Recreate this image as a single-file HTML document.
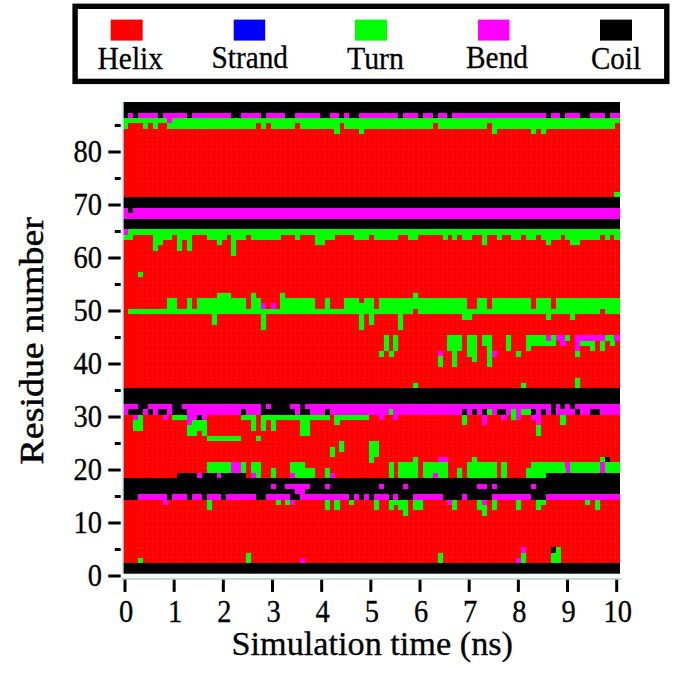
<!DOCTYPE html>
<html><head><meta charset="utf-8"><title>DSSP</title>
<style>
html,body{margin:0;padding:0;background:#fff;}
body{width:685px;height:677px;overflow:hidden;position:relative;font-family:"Liberation Serif",serif;}
svg{position:absolute;left:0;top:0;}
text{font-family:"Liberation Serif",serif;fill:#000;stroke:#000;stroke-width:0.3px;}
.tk{font-size:28.5px;}
.lg{font-size:31px;}
.ax{font-size:34.7px;}
</style></head><body>
<svg width="685" height="677" viewBox="0 0 685 677">
<rect x="0" y="0" width="685" height="677" fill="#fff"/>
<!-- legend -->
<rect x="75.1" y="6.3" width="591.7" height="75.1" fill="#fff" stroke="#000" stroke-width="5.4"/>
<rect x="110.7" y="19.6" width="32" height="21" fill="#ff0000"/>
<rect x="233.7" y="19.6" width="31.5" height="21" fill="#0000ff"/>
<rect x="355" y="19.6" width="32" height="21" fill="#00ff00"/>
<rect x="478" y="19.6" width="31.5" height="21" fill="#ff00ff"/>
<rect x="600" y="19.6" width="32" height="21" fill="#000"/>
<text x="97.5" y="69.4" class="lg" textLength="65.5" lengthAdjust="spacingAndGlyphs">Helix</text>
<text x="211.5" y="68" class="lg" textLength="76.5" lengthAdjust="spacingAndGlyphs">Strand</text>
<text x="347" y="69.4" class="lg" textLength="57" lengthAdjust="spacingAndGlyphs">Turn</text>
<text x="466" y="68" class="lg" textLength="62" lengthAdjust="spacingAndGlyphs">Bend</text>
<text x="591" y="69.4" class="lg" textLength="50" lengthAdjust="spacingAndGlyphs">Coil</text>
<!-- plot -->
<g shape-rendering="crispEdges">
<rect x="123.2" y="102.1" width="496.7" height="471.6" fill="#ff0000"/>
<path d="M138.0 102.1V573.7M142.9 102.1V573.7M147.8 102.1V573.7M152.7 102.1V573.7M157.6 102.1V573.7M162.5 102.1V573.7M167.5 102.1V573.7M172.4 102.1V573.7M177.3 102.1V573.7M182.2 102.1V573.7M187.1 102.1V573.7M192.0 102.1V573.7M197.0 102.1V573.7M201.9 102.1V573.7M206.8 102.1V573.7M211.7 102.1V573.7M216.6 102.1V573.7M221.6 102.1V573.7M226.5 102.1V573.7M231.4 102.1V573.7M236.3 102.1V573.7M241.2 102.1V573.7M246.1 102.1V573.7M251.1 102.1V573.7M256.0 102.1V573.7M260.9 102.1V573.7M265.8 102.1V573.7M270.7 102.1V573.7M275.7 102.1V573.7M280.6 102.1V573.7M285.5 102.1V573.7M290.4 102.1V573.7M295.3 102.1V573.7M300.2 102.1V573.7M305.2 102.1V573.7M310.1 102.1V573.7M315.0 102.1V573.7M319.9 102.1V573.7M324.8 102.1V573.7M329.7 102.1V573.7M334.7 102.1V573.7M339.6 102.1V573.7M344.5 102.1V573.7M349.4 102.1V573.7M354.3 102.1V573.7M359.3 102.1V573.7M364.2 102.1V573.7M369.1 102.1V573.7M374.0 102.1V573.7M378.9 102.1V573.7M383.8 102.1V573.7M388.8 102.1V573.7M393.7 102.1V573.7M398.6 102.1V573.7M403.5 102.1V573.7M408.4 102.1V573.7M413.4 102.1V573.7M418.3 102.1V573.7M423.2 102.1V573.7M428.1 102.1V573.7M433.0 102.1V573.7M437.9 102.1V573.7M442.9 102.1V573.7M447.8 102.1V573.7M452.7 102.1V573.7M457.6 102.1V573.7M462.5 102.1V573.7M467.4 102.1V573.7M472.4 102.1V573.7M477.3 102.1V573.7M482.2 102.1V573.7M487.1 102.1V573.7M492.0 102.1V573.7M497.0 102.1V573.7M501.9 102.1V573.7M506.8 102.1V573.7M511.7 102.1V573.7M516.6 102.1V573.7M521.5 102.1V573.7M526.5 102.1V573.7M531.4 102.1V573.7M536.3 102.1V573.7M541.2 102.1V573.7M546.1 102.1V573.7M551.1 102.1V573.7M556.0 102.1V573.7M560.9 102.1V573.7M565.8 102.1V573.7M570.7 102.1V573.7M575.6 102.1V573.7M580.6 102.1V573.7M585.5 102.1V573.7M590.4 102.1V573.7M595.3 102.1V573.7M600.2 102.1V573.7M605.1 102.1V573.7M610.1 102.1V573.7M615.0 102.1V573.7M137.2 568.4H619.9M137.2 563.1H619.9M137.2 557.8H619.9M137.2 552.5H619.9M137.2 547.2H619.9M137.2 541.9H619.9M137.2 536.6H619.9M137.2 531.3H619.9M137.2 526.0H619.9M137.2 520.7H619.9M137.2 515.4H619.9M137.2 510.1H619.9M137.2 504.8H619.9M137.2 499.5H619.9M137.2 494.2H619.9M137.2 488.9H619.9M137.2 483.6H619.9M137.2 478.3H619.9M137.2 473.0H619.9M137.2 467.7H619.9M137.2 462.4H619.9M137.2 457.1H619.9M137.2 451.8H619.9M137.2 446.5H619.9M137.2 441.2H619.9M137.2 435.9H619.9M137.2 430.6H619.9M137.2 425.3H619.9M137.2 420.0H619.9M137.2 414.7H619.9M137.2 409.4H619.9M137.2 404.1H619.9M137.2 398.8H619.9M137.2 393.5H619.9M137.2 388.2H619.9M137.2 382.9H619.9M137.2 377.6H619.9M137.2 372.3H619.9M137.2 367.0H619.9M137.2 361.7H619.9M137.2 356.4H619.9M137.2 351.1H619.9M137.2 345.8H619.9M137.2 340.5H619.9M137.2 335.3H619.9M137.2 330.0H619.9M137.2 324.7H619.9M137.2 319.4H619.9M137.2 314.1H619.9M137.2 308.8H619.9M137.2 303.5H619.9M137.2 298.2H619.9M137.2 292.9H619.9M137.2 287.6H619.9M137.2 282.3H619.9M137.2 277.0H619.9M137.2 271.7H619.9M137.2 266.4H619.9M137.2 261.1H619.9M137.2 255.8H619.9M137.2 250.5H619.9M137.2 245.2H619.9M137.2 239.9H619.9M137.2 234.6H619.9M137.2 229.3H619.9M137.2 224.0H619.9M137.2 218.7H619.9M137.2 213.4H619.9M137.2 208.1H619.9M137.2 202.8H619.9M137.2 197.5H619.9M137.2 192.2H619.9M137.2 186.9H619.9M137.2 181.6H619.9M137.2 176.3H619.9M137.2 171.0H619.9M137.2 165.7H619.9M137.2 160.4H619.9M137.2 155.1H619.9M137.2 149.8H619.9M137.2 144.5H619.9M137.2 139.2H619.9M137.2 133.9H619.9M137.2 128.6H619.9M137.2 123.3H619.9M137.2 118.0H619.9M137.2 112.7H619.9M137.2 107.4H619.9" fill="none" stroke="#fff" stroke-opacity="0.04" stroke-width="1"/>
<rect x="123.2" y="102.1" width="496.7" height="10.75" fill="#000000"/>
<rect x="123.2" y="112.7" width="5.06" height="5.45" fill="#000000"/>
<rect x="128.11" y="112.7" width="5.06" height="5.45" fill="#ff00ff"/>
<rect x="133.03" y="112.7" width="5.06" height="5.45" fill="#000000"/>
<rect x="137.94" y="112.7" width="19.8" height="5.45" fill="#ff00ff"/>
<rect x="157.59" y="112.7" width="5.06" height="5.45" fill="#000000"/>
<rect x="162.5" y="112.7" width="24.71" height="5.45" fill="#ff00ff"/>
<rect x="187.07" y="112.7" width="5.06" height="5.45" fill="#000000"/>
<rect x="191.98" y="112.7" width="39.45" height="5.45" fill="#ff00ff"/>
<rect x="231.28" y="112.7" width="9.98" height="5.45" fill="#000000"/>
<rect x="241.11" y="112.7" width="19.8" height="5.45" fill="#ff00ff"/>
<rect x="260.76" y="112.7" width="5.06" height="5.45" fill="#000000"/>
<rect x="265.67" y="112.7" width="19.8" height="5.45" fill="#ff00ff"/>
<rect x="285.32" y="112.7" width="9.98" height="5.45" fill="#000000"/>
<rect x="295.15" y="112.7" width="24.71" height="5.45" fill="#ff00ff"/>
<rect x="319.71" y="112.7" width="9.98" height="5.45" fill="#000000"/>
<rect x="329.54" y="112.7" width="9.98" height="5.45" fill="#ff00ff"/>
<rect x="339.37" y="112.7" width="5.06" height="5.45" fill="#000000"/>
<rect x="344.28" y="112.7" width="5.06" height="5.45" fill="#ff00ff"/>
<rect x="349.19" y="112.7" width="9.98" height="5.45" fill="#000000"/>
<rect x="359.02" y="112.7" width="39.45" height="5.45" fill="#ff00ff"/>
<rect x="398.32" y="112.7" width="5.06" height="5.45" fill="#000000"/>
<rect x="403.23" y="112.7" width="14.89" height="5.45" fill="#ff00ff"/>
<rect x="417.97" y="112.7" width="5.06" height="5.45" fill="#000000"/>
<rect x="422.89" y="112.7" width="9.98" height="5.45" fill="#ff00ff"/>
<rect x="432.71" y="112.7" width="5.06" height="5.45" fill="#000000"/>
<rect x="437.62" y="112.7" width="9.98" height="5.45" fill="#ff00ff"/>
<rect x="447.45" y="112.7" width="5.06" height="5.45" fill="#000000"/>
<rect x="452.36" y="112.7" width="93.49" height="5.45" fill="#ff00ff"/>
<rect x="545.71" y="112.7" width="5.06" height="5.45" fill="#000000"/>
<rect x="550.62" y="112.7" width="9.98" height="5.45" fill="#ff00ff"/>
<rect x="560.45" y="112.7" width="5.06" height="5.45" fill="#000000"/>
<rect x="565.36" y="112.7" width="14.89" height="5.45" fill="#ff00ff"/>
<rect x="580.1" y="112.7" width="9.98" height="5.45" fill="#000000"/>
<rect x="589.92" y="112.7" width="14.89" height="5.45" fill="#ff00ff"/>
<rect x="604.66" y="112.7" width="5.06" height="5.45" fill="#000000"/>
<rect x="609.57" y="112.7" width="10.33" height="5.45" fill="#ff00ff"/>
<rect x="123.2" y="118" width="44.37" height="5.45" fill="#00ff00"/>
<rect x="167.42" y="118" width="5.06" height="5.45" fill="#ff00ff"/>
<rect x="172.33" y="118" width="447.57" height="5.45" fill="#00ff00"/>
<rect x="123.2" y="123.3" width="5.06" height="5.45" fill="#00ff00"/>
<rect x="142.85" y="123.3" width="5.06" height="5.45" fill="#00ff00"/>
<rect x="152.68" y="123.3" width="5.06" height="5.45" fill="#00ff00"/>
<rect x="167.42" y="123.3" width="88.58" height="5.45" fill="#00ff00"/>
<rect x="260.76" y="123.3" width="5.06" height="5.45" fill="#00ff00"/>
<rect x="270.59" y="123.3" width="24.71" height="5.45" fill="#00ff00"/>
<rect x="300.06" y="123.3" width="39.45" height="5.45" fill="#00ff00"/>
<rect x="344.28" y="123.3" width="88.58" height="5.45" fill="#00ff00"/>
<rect x="437.62" y="123.3" width="49.28" height="5.45" fill="#00ff00"/>
<rect x="491.67" y="123.3" width="122.97" height="5.45" fill="#00ff00"/>
<rect x="334.45" y="128.59" width="5.06" height="5.45" fill="#00ff00"/>
<rect x="359.02" y="128.59" width="5.06" height="5.45" fill="#00ff00"/>
<rect x="491.67" y="128.59" width="5.06" height="5.45" fill="#00ff00"/>
<rect x="530.97" y="128.59" width="5.06" height="5.45" fill="#00ff00"/>
<rect x="540.79" y="128.59" width="5.06" height="5.45" fill="#00ff00"/>
<rect x="614.49" y="192.18" width="5.41" height="5.45" fill="#00ff00"/>
<rect x="123.2" y="197.48" width="496.7" height="10.75" fill="#000000"/>
<rect x="123.2" y="208.08" width="5.06" height="5.45" fill="#ff00ff"/>
<rect x="128.11" y="208.08" width="5.06" height="5.45" fill="#000000"/>
<rect x="133.03" y="208.08" width="486.87" height="5.45" fill="#ff00ff"/>
<rect x="123.2" y="213.38" width="496.7" height="5.45" fill="#ff00ff"/>
<rect x="123.2" y="218.68" width="496.7" height="10.75" fill="#000000"/>
<rect x="123.2" y="229.27" width="5.06" height="5.45" fill="#ff00ff"/>
<rect x="128.11" y="229.27" width="491.79" height="5.45" fill="#00ff00"/>
<rect x="123.2" y="234.57" width="9.98" height="5.45" fill="#00ff00"/>
<rect x="152.68" y="234.57" width="19.8" height="5.45" fill="#00ff00"/>
<rect x="177.24" y="234.57" width="14.89" height="5.45" fill="#00ff00"/>
<rect x="206.72" y="234.57" width="19.8" height="5.45" fill="#00ff00"/>
<rect x="231.28" y="234.57" width="14.89" height="5.45" fill="#00ff00"/>
<rect x="250.93" y="234.57" width="29.63" height="5.45" fill="#00ff00"/>
<rect x="295.15" y="234.57" width="5.06" height="5.45" fill="#00ff00"/>
<rect x="314.8" y="234.57" width="19.8" height="5.45" fill="#00ff00"/>
<rect x="354.1" y="234.57" width="14.89" height="5.45" fill="#00ff00"/>
<rect x="373.76" y="234.57" width="24.71" height="5.45" fill="#00ff00"/>
<rect x="408.15" y="234.57" width="9.98" height="5.45" fill="#00ff00"/>
<rect x="442.54" y="234.57" width="5.06" height="5.45" fill="#00ff00"/>
<rect x="452.36" y="234.57" width="5.06" height="5.45" fill="#00ff00"/>
<rect x="462.19" y="234.57" width="9.98" height="5.45" fill="#00ff00"/>
<rect x="481.84" y="234.57" width="5.06" height="10.75" fill="#00ff00"/>
<rect x="496.58" y="234.57" width="5.06" height="5.45" fill="#00ff00"/>
<rect x="511.32" y="234.57" width="9.98" height="5.45" fill="#00ff00"/>
<rect x="526.06" y="234.57" width="9.98" height="5.45" fill="#00ff00"/>
<rect x="540.79" y="234.57" width="19.8" height="5.45" fill="#00ff00"/>
<rect x="565.36" y="234.57" width="34.54" height="5.45" fill="#00ff00"/>
<rect x="604.66" y="234.57" width="5.06" height="5.45" fill="#00ff00"/>
<rect x="614.49" y="234.57" width="5.41" height="5.45" fill="#00ff00"/>
<rect x="152.68" y="239.87" width="9.98" height="5.45" fill="#00ff00"/>
<rect x="177.24" y="239.87" width="5.06" height="10.75" fill="#00ff00"/>
<rect x="187.07" y="239.87" width="5.06" height="10.75" fill="#00ff00"/>
<rect x="216.54" y="239.87" width="5.06" height="5.45" fill="#00ff00"/>
<rect x="231.28" y="239.87" width="5.06" height="16.05" fill="#00ff00"/>
<rect x="314.8" y="239.87" width="9.98" height="5.45" fill="#00ff00"/>
<rect x="545.71" y="239.87" width="5.06" height="5.45" fill="#00ff00"/>
<rect x="570.27" y="239.87" width="9.98" height="5.45" fill="#00ff00"/>
<rect x="152.68" y="245.17" width="5.06" height="5.45" fill="#00ff00"/>
<rect x="137.94" y="271.66" width="5.06" height="5.45" fill="#00ff00"/>
<rect x="216.54" y="292.86" width="14.89" height="5.45" fill="#00ff00"/>
<rect x="250.93" y="292.86" width="5.06" height="5.45" fill="#00ff00"/>
<rect x="280.41" y="292.86" width="5.06" height="5.45" fill="#00ff00"/>
<rect x="413.06" y="292.86" width="5.06" height="5.45" fill="#00ff00"/>
<rect x="167.42" y="298.16" width="9.98" height="10.75" fill="#00ff00"/>
<rect x="187.07" y="298.16" width="5.06" height="10.75" fill="#00ff00"/>
<rect x="196.89" y="298.16" width="49.28" height="10.75" fill="#00ff00"/>
<rect x="250.93" y="298.16" width="9.98" height="10.75" fill="#00ff00"/>
<rect x="280.41" y="298.16" width="34.54" height="10.75" fill="#00ff00"/>
<rect x="324.63" y="298.16" width="5.06" height="10.75" fill="#00ff00"/>
<rect x="344.28" y="298.16" width="14.89" height="5.45" fill="#00ff00"/>
<rect x="363.93" y="298.16" width="9.98" height="5.45" fill="#00ff00"/>
<rect x="378.67" y="298.16" width="88.58" height="10.75" fill="#00ff00"/>
<rect x="476.93" y="298.16" width="9.98" height="10.75" fill="#00ff00"/>
<rect x="491.67" y="298.16" width="39.45" height="10.75" fill="#00ff00"/>
<rect x="535.88" y="298.16" width="14.89" height="10.75" fill="#00ff00"/>
<rect x="555.53" y="298.16" width="64.37" height="10.75" fill="#00ff00"/>
<rect x="260.76" y="303.46" width="5.06" height="5.45" fill="#ff00ff"/>
<rect x="270.59" y="303.46" width="5.06" height="5.45" fill="#ff00ff"/>
<rect x="344.28" y="303.46" width="29.63" height="5.45" fill="#00ff00"/>
<rect x="128.11" y="308.76" width="285.1" height="5.45" fill="#00ff00"/>
<rect x="417.97" y="308.76" width="181.93" height="5.45" fill="#00ff00"/>
<rect x="604.66" y="308.76" width="15.24" height="5.45" fill="#00ff00"/>
<rect x="211.63" y="314.06" width="5.06" height="10.75" fill="#00ff00"/>
<rect x="260.76" y="314.06" width="5.06" height="16.05" fill="#00ff00"/>
<rect x="359.02" y="314.06" width="5.06" height="16.05" fill="#00ff00"/>
<rect x="368.84" y="314.06" width="5.06" height="10.75" fill="#00ff00"/>
<rect x="398.32" y="314.06" width="5.06" height="16.05" fill="#00ff00"/>
<rect x="462.19" y="314.06" width="9.98" height="5.45" fill="#00ff00"/>
<rect x="545.71" y="314.06" width="5.06" height="5.45" fill="#00ff00"/>
<rect x="570.27" y="314.06" width="5.06" height="5.45" fill="#00ff00"/>
<rect x="383.58" y="335.25" width="5.06" height="16.05" fill="#00ff00"/>
<rect x="393.41" y="335.25" width="5.06" height="16.05" fill="#00ff00"/>
<rect x="447.45" y="335.25" width="14.89" height="16.05" fill="#00ff00"/>
<rect x="467.1" y="335.25" width="9.98" height="21.35" fill="#00ff00"/>
<rect x="481.84" y="335.25" width="9.98" height="10.75" fill="#00ff00"/>
<rect x="506.4" y="335.25" width="5.06" height="16.05" fill="#00ff00"/>
<rect x="526.06" y="335.25" width="19.8" height="5.45" fill="#00ff00"/>
<rect x="545.71" y="335.25" width="5.06" height="5.45" fill="#ff00ff"/>
<rect x="550.62" y="335.25" width="5.06" height="5.45" fill="#00ff00"/>
<rect x="555.53" y="335.25" width="9.98" height="5.45" fill="#ff00ff"/>
<rect x="565.36" y="335.25" width="5.06" height="5.45" fill="#00ff00"/>
<rect x="575.18" y="335.25" width="29.63" height="5.45" fill="#ff00ff"/>
<rect x="604.66" y="335.25" width="9.98" height="5.45" fill="#00ff00"/>
<rect x="614.49" y="335.25" width="5.41" height="5.45" fill="#ff00ff"/>
<rect x="526.06" y="340.55" width="29.63" height="5.45" fill="#00ff00"/>
<rect x="560.45" y="340.55" width="5.06" height="5.45" fill="#ff00ff"/>
<rect x="575.18" y="340.55" width="5.06" height="10.75" fill="#ff00ff"/>
<rect x="580.1" y="340.55" width="14.89" height="5.45" fill="#00ff00"/>
<rect x="599.75" y="340.55" width="5.06" height="10.75" fill="#00ff00"/>
<rect x="609.57" y="340.55" width="5.06" height="5.45" fill="#00ff00"/>
<rect x="486.75" y="345.85" width="5.06" height="21.35" fill="#00ff00"/>
<rect x="526.06" y="345.85" width="5.06" height="5.45" fill="#00ff00"/>
<rect x="589.92" y="345.85" width="5.06" height="5.45" fill="#00ff00"/>
<rect x="378.67" y="351.15" width="5.06" height="5.45" fill="#00ff00"/>
<rect x="388.5" y="351.15" width="5.06" height="5.45" fill="#00ff00"/>
<rect x="437.62" y="351.15" width="5.06" height="5.45" fill="#ff00ff"/>
<rect x="452.36" y="351.15" width="5.06" height="16.05" fill="#00ff00"/>
<rect x="491.67" y="351.15" width="5.06" height="5.45" fill="#ff00ff"/>
<rect x="516.23" y="351.15" width="5.06" height="5.45" fill="#00ff00"/>
<rect x="575.18" y="351.15" width="5.06" height="5.45" fill="#00ff00"/>
<rect x="437.62" y="356.45" width="5.06" height="10.75" fill="#00ff00"/>
<rect x="472.01" y="356.45" width="5.06" height="5.45" fill="#00ff00"/>
<rect x="575.18" y="377.64" width="5.06" height="10.75" fill="#00ff00"/>
<rect x="413.06" y="382.94" width="5.06" height="5.45" fill="#00ff00"/>
<rect x="521.14" y="382.94" width="5.06" height="5.45" fill="#00ff00"/>
<rect x="123.2" y="388.24" width="496.7" height="16.05" fill="#000000"/>
<rect x="123.2" y="404.14" width="14.89" height="5.45" fill="#ff00ff"/>
<rect x="137.94" y="404.14" width="9.98" height="5.45" fill="#000000"/>
<rect x="147.76" y="404.14" width="24.71" height="5.45" fill="#ff00ff"/>
<rect x="172.33" y="404.14" width="9.98" height="5.45" fill="#000000"/>
<rect x="182.15" y="404.14" width="78.76" height="5.45" fill="#ff00ff"/>
<rect x="260.76" y="404.14" width="5.06" height="5.45" fill="#000000"/>
<rect x="265.67" y="404.14" width="5.06" height="5.45" fill="#ff00ff"/>
<rect x="270.59" y="404.14" width="19.8" height="5.45" fill="#000000"/>
<rect x="290.24" y="404.14" width="9.98" height="5.45" fill="#ff00ff"/>
<rect x="300.06" y="404.14" width="5.06" height="5.45" fill="#000000"/>
<rect x="304.98" y="404.14" width="245.79" height="5.45" fill="#ff00ff"/>
<rect x="550.62" y="404.14" width="5.06" height="10.75" fill="#000000"/>
<rect x="555.53" y="404.14" width="5.06" height="5.45" fill="#ff00ff"/>
<rect x="560.45" y="404.14" width="5.06" height="5.45" fill="#000000"/>
<rect x="565.36" y="404.14" width="5.06" height="5.45" fill="#ff00ff"/>
<rect x="570.27" y="404.14" width="5.06" height="5.45" fill="#000000"/>
<rect x="575.18" y="404.14" width="44.72" height="5.45" fill="#ff00ff"/>
<rect x="123.2" y="409.43" width="5.06" height="5.45" fill="#ff00ff"/>
<rect x="128.11" y="409.43" width="14.89" height="5.45" fill="#000000"/>
<rect x="142.85" y="409.43" width="5.06" height="5.45" fill="#ff00ff"/>
<rect x="147.76" y="409.43" width="5.06" height="5.45" fill="#000000"/>
<rect x="152.68" y="409.43" width="5.06" height="5.45" fill="#ff00ff"/>
<rect x="157.59" y="409.43" width="9.98" height="5.45" fill="#000000"/>
<rect x="167.42" y="409.43" width="5.06" height="5.45" fill="#ff00ff"/>
<rect x="172.33" y="409.43" width="14.89" height="5.45" fill="#000000"/>
<rect x="187.07" y="409.43" width="54.19" height="5.45" fill="#ff00ff"/>
<rect x="241.11" y="409.43" width="5.06" height="5.45" fill="#000000"/>
<rect x="246.02" y="409.43" width="14.89" height="5.45" fill="#ff00ff"/>
<rect x="260.76" y="409.43" width="34.54" height="5.45" fill="#000000"/>
<rect x="295.15" y="409.43" width="5.06" height="5.45" fill="#ff00ff"/>
<rect x="300.06" y="409.43" width="9.98" height="5.45" fill="#000000"/>
<rect x="309.89" y="409.43" width="14.89" height="5.45" fill="#ff00ff"/>
<rect x="324.63" y="409.43" width="5.06" height="5.45" fill="#000000"/>
<rect x="329.54" y="409.43" width="59.1" height="5.45" fill="#ff00ff"/>
<rect x="388.5" y="409.43" width="5.06" height="5.45" fill="#00ff00"/>
<rect x="393.41" y="409.43" width="68.93" height="5.45" fill="#ff00ff"/>
<rect x="462.19" y="409.43" width="5.06" height="5.45" fill="#000000"/>
<rect x="467.1" y="409.43" width="5.06" height="5.45" fill="#ff00ff"/>
<rect x="472.01" y="409.43" width="5.06" height="5.45" fill="#000000"/>
<rect x="476.93" y="409.43" width="5.06" height="5.45" fill="#ff00ff"/>
<rect x="481.84" y="409.43" width="5.06" height="5.45" fill="#000000"/>
<rect x="486.75" y="409.43" width="5.06" height="5.45" fill="#00ff00"/>
<rect x="491.67" y="409.43" width="5.06" height="5.45" fill="#ff00ff"/>
<rect x="496.58" y="409.43" width="9.98" height="5.45" fill="#000000"/>
<rect x="506.4" y="409.43" width="5.06" height="5.45" fill="#ff00ff"/>
<rect x="511.32" y="409.43" width="5.06" height="10.75" fill="#00ff00"/>
<rect x="516.23" y="409.43" width="5.06" height="10.75" fill="#ff00ff"/>
<rect x="521.14" y="409.43" width="9.98" height="5.45" fill="#00ff00"/>
<rect x="530.97" y="409.43" width="5.06" height="5.45" fill="#000000"/>
<rect x="535.88" y="409.43" width="5.06" height="5.45" fill="#ff00ff"/>
<rect x="540.79" y="409.43" width="5.06" height="5.45" fill="#000000"/>
<rect x="545.71" y="409.43" width="5.06" height="5.45" fill="#ff00ff"/>
<rect x="555.53" y="409.43" width="19.8" height="5.45" fill="#ff00ff"/>
<rect x="575.18" y="409.43" width="5.06" height="5.45" fill="#000000"/>
<rect x="580.1" y="409.43" width="9.98" height="5.45" fill="#ff00ff"/>
<rect x="589.92" y="409.43" width="9.98" height="5.45" fill="#000000"/>
<rect x="599.75" y="409.43" width="20.15" height="5.45" fill="#ff00ff"/>
<rect x="133.03" y="414.73" width="5.06" height="5.45" fill="#ff00ff"/>
<rect x="137.94" y="414.73" width="5.06" height="5.45" fill="#00ff00"/>
<rect x="162.5" y="414.73" width="5.06" height="5.45" fill="#ff00ff"/>
<rect x="172.33" y="414.73" width="14.89" height="5.45" fill="#00ff00"/>
<rect x="187.07" y="414.73" width="9.98" height="5.45" fill="#ff00ff"/>
<rect x="196.89" y="414.73" width="5.06" height="5.45" fill="#000000"/>
<rect x="201.81" y="414.73" width="5.06" height="5.45" fill="#ff00ff"/>
<rect x="241.11" y="414.73" width="14.89" height="5.45" fill="#00ff00"/>
<rect x="260.76" y="414.73" width="68.93" height="5.45" fill="#00ff00"/>
<rect x="334.45" y="414.73" width="34.54" height="5.45" fill="#00ff00"/>
<rect x="378.67" y="414.73" width="5.06" height="5.45" fill="#ff00ff"/>
<rect x="393.41" y="414.73" width="5.06" height="5.45" fill="#ff00ff"/>
<rect x="462.19" y="414.73" width="5.06" height="10.75" fill="#00ff00"/>
<rect x="481.84" y="414.73" width="5.06" height="10.75" fill="#ff00ff"/>
<rect x="501.49" y="414.73" width="5.06" height="5.45" fill="#ff00ff"/>
<rect x="530.97" y="414.73" width="9.98" height="5.45" fill="#ff00ff"/>
<rect x="560.45" y="414.73" width="5.06" height="10.75" fill="#00ff00"/>
<rect x="133.03" y="420.03" width="9.98" height="10.75" fill="#00ff00"/>
<rect x="187.07" y="420.03" width="5.06" height="5.45" fill="#ff00ff"/>
<rect x="191.98" y="420.03" width="14.89" height="5.45" fill="#00ff00"/>
<rect x="250.93" y="420.03" width="5.06" height="10.75" fill="#00ff00"/>
<rect x="260.76" y="420.03" width="5.06" height="10.75" fill="#00ff00"/>
<rect x="270.59" y="420.03" width="5.06" height="10.75" fill="#00ff00"/>
<rect x="300.06" y="420.03" width="9.98" height="16.05" fill="#00ff00"/>
<rect x="334.45" y="420.03" width="5.06" height="5.45" fill="#00ff00"/>
<rect x="535.88" y="420.03" width="5.06" height="5.45" fill="#ff00ff"/>
<rect x="187.07" y="425.33" width="19.8" height="5.45" fill="#00ff00"/>
<rect x="535.88" y="425.33" width="5.06" height="10.75" fill="#00ff00"/>
<rect x="187.07" y="430.63" width="9.98" height="5.45" fill="#00ff00"/>
<rect x="201.81" y="430.63" width="5.06" height="5.45" fill="#00ff00"/>
<rect x="206.72" y="435.93" width="34.54" height="5.45" fill="#00ff00"/>
<rect x="255.85" y="435.93" width="5.06" height="5.45" fill="#00ff00"/>
<rect x="339.37" y="441.23" width="5.06" height="10.75" fill="#00ff00"/>
<rect x="368.84" y="441.23" width="9.98" height="16.05" fill="#00ff00"/>
<rect x="329.54" y="446.53" width="5.06" height="10.75" fill="#00ff00"/>
<rect x="368.84" y="457.12" width="5.06" height="5.45" fill="#00ff00"/>
<rect x="413.06" y="457.12" width="5.06" height="5.45" fill="#00ff00"/>
<rect x="437.62" y="457.12" width="9.98" height="5.45" fill="#ff00ff"/>
<rect x="472.01" y="457.12" width="5.06" height="5.45" fill="#00ff00"/>
<rect x="599.75" y="457.12" width="5.06" height="5.45" fill="#00ff00"/>
<rect x="604.66" y="457.12" width="5.06" height="5.45" fill="#000000"/>
<rect x="206.72" y="462.42" width="24.71" height="10.75" fill="#00ff00"/>
<rect x="231.28" y="462.42" width="9.98" height="10.75" fill="#ff00ff"/>
<rect x="241.11" y="462.42" width="5.06" height="10.75" fill="#00ff00"/>
<rect x="250.93" y="462.42" width="9.98" height="10.75" fill="#00ff00"/>
<rect x="290.24" y="462.42" width="14.89" height="5.45" fill="#00ff00"/>
<rect x="388.5" y="462.42" width="5.06" height="16.05" fill="#00ff00"/>
<rect x="398.32" y="462.42" width="19.8" height="16.05" fill="#00ff00"/>
<rect x="422.89" y="462.42" width="24.71" height="10.75" fill="#00ff00"/>
<rect x="467.1" y="462.42" width="29.63" height="16.05" fill="#00ff00"/>
<rect x="501.49" y="462.42" width="5.06" height="16.05" fill="#00ff00"/>
<rect x="530.97" y="462.42" width="34.54" height="5.45" fill="#00ff00"/>
<rect x="565.36" y="462.42" width="5.06" height="10.75" fill="#ff00ff"/>
<rect x="570.27" y="462.42" width="29.63" height="10.75" fill="#00ff00"/>
<rect x="599.75" y="462.42" width="5.06" height="10.75" fill="#ff00ff"/>
<rect x="604.66" y="462.42" width="15.24" height="10.75" fill="#00ff00"/>
<rect x="270.59" y="467.72" width="5.06" height="10.75" fill="#00ff00"/>
<rect x="290.24" y="467.72" width="24.71" height="5.45" fill="#00ff00"/>
<rect x="324.63" y="467.72" width="5.06" height="10.75" fill="#00ff00"/>
<rect x="457.28" y="467.72" width="5.06" height="10.75" fill="#00ff00"/>
<rect x="526.06" y="467.72" width="39.45" height="5.45" fill="#00ff00"/>
<rect x="177.24" y="473.02" width="19.8" height="5.45" fill="#000000"/>
<rect x="196.89" y="473.02" width="5.06" height="5.45" fill="#ff00ff"/>
<rect x="201.81" y="473.02" width="14.89" height="5.45" fill="#000000"/>
<rect x="216.54" y="473.02" width="5.06" height="5.45" fill="#ff00ff"/>
<rect x="221.46" y="473.02" width="24.71" height="5.45" fill="#000000"/>
<rect x="250.93" y="473.02" width="5.06" height="5.45" fill="#ff00ff"/>
<rect x="255.85" y="473.02" width="5.06" height="5.45" fill="#00ff00"/>
<rect x="290.24" y="473.02" width="5.06" height="5.45" fill="#ff00ff"/>
<rect x="295.15" y="473.02" width="19.8" height="5.45" fill="#00ff00"/>
<rect x="329.54" y="473.02" width="5.06" height="5.45" fill="#ff00ff"/>
<rect x="422.89" y="473.02" width="9.98" height="5.45" fill="#00ff00"/>
<rect x="432.71" y="473.02" width="5.06" height="5.45" fill="#ff00ff"/>
<rect x="437.62" y="473.02" width="9.98" height="5.45" fill="#00ff00"/>
<rect x="526.06" y="473.02" width="19.8" height="5.45" fill="#00ff00"/>
<rect x="545.71" y="473.02" width="74.19" height="5.45" fill="#000000"/>
<rect x="123.2" y="478.32" width="496.7" height="5.45" fill="#000000"/>
<rect x="123.2" y="483.62" width="147.54" height="5.45" fill="#000000"/>
<rect x="270.59" y="483.62" width="5.06" height="5.45" fill="#ff00ff"/>
<rect x="275.5" y="483.62" width="9.98" height="5.45" fill="#000000"/>
<rect x="285.32" y="483.62" width="24.71" height="5.45" fill="#ff00ff"/>
<rect x="309.89" y="483.62" width="14.89" height="5.45" fill="#000000"/>
<rect x="324.63" y="483.62" width="5.06" height="5.45" fill="#ff00ff"/>
<rect x="329.54" y="483.62" width="49.28" height="5.45" fill="#000000"/>
<rect x="378.67" y="483.62" width="5.06" height="5.45" fill="#ff00ff"/>
<rect x="383.58" y="483.62" width="19.8" height="5.45" fill="#000000"/>
<rect x="403.23" y="483.62" width="5.06" height="5.45" fill="#ff00ff"/>
<rect x="408.15" y="483.62" width="68.93" height="5.45" fill="#000000"/>
<rect x="476.93" y="483.62" width="9.98" height="5.45" fill="#ff00ff"/>
<rect x="486.75" y="483.62" width="5.06" height="5.45" fill="#000000"/>
<rect x="491.67" y="483.62" width="5.06" height="5.45" fill="#ff00ff"/>
<rect x="496.58" y="483.62" width="34.54" height="5.45" fill="#000000"/>
<rect x="530.97" y="483.62" width="5.06" height="5.45" fill="#ff00ff"/>
<rect x="535.88" y="483.62" width="84.02" height="5.45" fill="#000000"/>
<rect x="123.2" y="488.92" width="172.1" height="5.45" fill="#000000"/>
<rect x="295.15" y="488.92" width="9.98" height="5.45" fill="#ff00ff"/>
<rect x="304.98" y="488.92" width="314.92" height="5.45" fill="#000000"/>
<rect x="123.2" y="494.22" width="14.89" height="5.45" fill="#000000"/>
<rect x="137.94" y="494.22" width="29.63" height="5.45" fill="#ff00ff"/>
<rect x="167.42" y="494.22" width="5.06" height="5.45" fill="#000000"/>
<rect x="172.33" y="494.22" width="14.89" height="5.45" fill="#ff00ff"/>
<rect x="187.07" y="494.22" width="5.06" height="5.45" fill="#000000"/>
<rect x="191.98" y="494.22" width="9.98" height="5.45" fill="#ff00ff"/>
<rect x="201.81" y="494.22" width="5.06" height="5.45" fill="#000000"/>
<rect x="206.72" y="494.22" width="14.89" height="5.45" fill="#ff00ff"/>
<rect x="221.46" y="494.22" width="5.06" height="5.45" fill="#000000"/>
<rect x="226.37" y="494.22" width="29.63" height="5.45" fill="#ff00ff"/>
<rect x="255.85" y="494.22" width="9.98" height="5.45" fill="#000000"/>
<rect x="265.67" y="494.22" width="24.71" height="5.45" fill="#ff00ff"/>
<rect x="290.24" y="494.22" width="9.98" height="5.45" fill="#000000"/>
<rect x="300.06" y="494.22" width="49.28" height="5.45" fill="#ff00ff"/>
<rect x="349.19" y="494.22" width="5.06" height="5.45" fill="#000000"/>
<rect x="354.1" y="494.22" width="5.06" height="5.45" fill="#ff00ff"/>
<rect x="359.02" y="494.22" width="5.06" height="5.45" fill="#000000"/>
<rect x="363.93" y="494.22" width="5.06" height="5.45" fill="#ff00ff"/>
<rect x="368.84" y="494.22" width="5.06" height="5.45" fill="#000000"/>
<rect x="373.76" y="494.22" width="14.89" height="5.45" fill="#ff00ff"/>
<rect x="388.5" y="494.22" width="5.06" height="5.45" fill="#000000"/>
<rect x="393.41" y="494.22" width="5.06" height="5.45" fill="#ff00ff"/>
<rect x="398.32" y="494.22" width="14.89" height="5.45" fill="#000000"/>
<rect x="413.06" y="494.22" width="29.63" height="5.45" fill="#ff00ff"/>
<rect x="442.54" y="494.22" width="19.8" height="5.45" fill="#000000"/>
<rect x="462.19" y="494.22" width="5.06" height="5.45" fill="#ff00ff"/>
<rect x="467.1" y="494.22" width="24.71" height="5.45" fill="#000000"/>
<rect x="491.67" y="494.22" width="39.45" height="5.45" fill="#ff00ff"/>
<rect x="530.97" y="494.22" width="14.89" height="5.45" fill="#000000"/>
<rect x="545.71" y="494.22" width="74.19" height="5.45" fill="#ff00ff"/>
<rect x="162.5" y="499.52" width="5.06" height="5.45" fill="#ff00ff"/>
<rect x="206.72" y="499.52" width="5.06" height="10.75" fill="#00ff00"/>
<rect x="275.5" y="499.52" width="5.06" height="5.45" fill="#00ff00"/>
<rect x="285.32" y="499.52" width="5.06" height="5.45" fill="#00ff00"/>
<rect x="290.24" y="499.52" width="5.06" height="5.45" fill="#ff00ff"/>
<rect x="324.63" y="499.52" width="5.06" height="10.75" fill="#00ff00"/>
<rect x="334.45" y="499.52" width="5.06" height="10.75" fill="#00ff00"/>
<rect x="349.19" y="499.52" width="5.06" height="5.45" fill="#00ff00"/>
<rect x="373.76" y="499.52" width="5.06" height="10.75" fill="#00ff00"/>
<rect x="388.5" y="499.52" width="19.8" height="5.45" fill="#00ff00"/>
<rect x="413.06" y="499.52" width="9.98" height="10.75" fill="#00ff00"/>
<rect x="447.45" y="499.52" width="5.06" height="5.45" fill="#ff00ff"/>
<rect x="452.36" y="499.52" width="5.06" height="10.75" fill="#00ff00"/>
<rect x="476.93" y="499.52" width="5.06" height="5.45" fill="#00ff00"/>
<rect x="481.84" y="499.52" width="5.06" height="5.45" fill="#ff00ff"/>
<rect x="491.67" y="499.52" width="5.06" height="10.75" fill="#00ff00"/>
<rect x="516.23" y="499.52" width="5.06" height="10.75" fill="#00ff00"/>
<rect x="535.88" y="499.52" width="9.98" height="5.45" fill="#00ff00"/>
<rect x="585.01" y="499.52" width="5.06" height="5.45" fill="#00ff00"/>
<rect x="594.84" y="499.52" width="5.06" height="10.75" fill="#00ff00"/>
<rect x="388.5" y="504.81" width="5.06" height="5.45" fill="#00ff00"/>
<rect x="398.32" y="504.81" width="9.98" height="5.45" fill="#00ff00"/>
<rect x="476.93" y="504.81" width="9.98" height="5.45" fill="#00ff00"/>
<rect x="535.88" y="504.81" width="5.06" height="5.45" fill="#00ff00"/>
<rect x="403.23" y="510.11" width="5.06" height="5.45" fill="#00ff00"/>
<rect x="481.84" y="510.11" width="5.06" height="5.45" fill="#00ff00"/>
<rect x="521.14" y="547.21" width="5.06" height="5.45" fill="#ff00ff"/>
<rect x="550.62" y="547.21" width="5.06" height="5.45" fill="#000000"/>
<rect x="555.53" y="547.21" width="5.06" height="5.45" fill="#00ff00"/>
<rect x="246.02" y="552.5" width="5.06" height="10.75" fill="#00ff00"/>
<rect x="437.62" y="552.5" width="5.06" height="10.75" fill="#00ff00"/>
<rect x="521.14" y="552.5" width="5.06" height="10.75" fill="#00ff00"/>
<rect x="550.62" y="552.5" width="9.98" height="10.75" fill="#00ff00"/>
<rect x="137.94" y="557.8" width="5.06" height="5.45" fill="#00ff00"/>
<rect x="300.06" y="557.8" width="5.06" height="5.45" fill="#ff00ff"/>
<rect x="516.23" y="557.8" width="5.06" height="5.45" fill="#ff00ff"/>
<rect x="123.2" y="563.1" width="496.7" height="10.75" fill="#000000"/>
</g>
<g>
<rect x="120.8" y="102" width="2.6" height="476" fill="#eefafa"/>
<rect x="122.3" y="102" width="1.1" height="472" fill="#bfe9ea"/>
<rect x="121" y="573.7" width="499.5" height="4.4" fill="#f3fbfb"/>
<rect x="121.2" y="578" width="500.4" height="1.8" fill="#c6d3d0"/>
<rect x="123.50" y="579.7" width="3" height="12.2" fill="#000"/>
<rect x="172.67" y="579.7" width="3" height="12.2" fill="#000"/>
<rect x="221.84" y="579.7" width="3" height="12.2" fill="#000"/>
<rect x="271.01" y="579.7" width="3" height="12.2" fill="#000"/>
<rect x="320.18" y="579.7" width="3" height="12.2" fill="#000"/>
<rect x="369.35" y="579.7" width="3" height="12.2" fill="#000"/>
<rect x="418.52" y="579.7" width="3" height="12.2" fill="#000"/>
<rect x="467.69" y="579.7" width="3" height="12.2" fill="#000"/>
<rect x="516.86" y="579.7" width="3" height="12.2" fill="#000"/>
<rect x="566.03" y="579.7" width="3" height="12.2" fill="#000"/>
<rect x="615.20" y="579.7" width="3" height="12.2" fill="#000"/>
<rect x="108.3" y="574.50" width="12.4" height="3" fill="#000"/>
<rect x="108.3" y="521.50" width="12.4" height="3" fill="#000"/>
<rect x="108.3" y="468.50" width="12.4" height="3" fill="#000"/>
<rect x="108.3" y="415.50" width="12.4" height="3" fill="#000"/>
<rect x="108.3" y="362.50" width="12.4" height="3" fill="#000"/>
<rect x="108.3" y="309.50" width="12.4" height="3" fill="#000"/>
<rect x="108.3" y="256.50" width="12.4" height="3" fill="#000"/>
<rect x="108.3" y="203.50" width="12.4" height="3" fill="#000"/>
<rect x="108.3" y="150.50" width="12.4" height="3" fill="#000"/>
<rect x="114.8" y="548.00" width="5.9" height="3" fill="#000"/>
<rect x="114.8" y="495.00" width="5.9" height="3" fill="#000"/>
<rect x="114.8" y="442.00" width="5.9" height="3" fill="#000"/>
<rect x="114.8" y="389.00" width="5.9" height="3" fill="#000"/>
<rect x="114.8" y="336.00" width="5.9" height="3" fill="#000"/>
<rect x="114.8" y="283.00" width="5.9" height="3" fill="#000"/>
<rect x="114.8" y="230.00" width="5.9" height="3" fill="#000"/>
<rect x="114.8" y="177.00" width="5.9" height="3" fill="#000"/>
<rect x="114.8" y="124.00" width="5.9" height="3" fill="#000"/>
</g>
<text transform="translate(126.00,622.3) scale(1,1.12)" text-anchor="middle" class="tk">0</text>
<text transform="translate(175.17,622.3) scale(1,1.12)" text-anchor="middle" class="tk">1</text>
<text transform="translate(224.34,622.3) scale(1,1.12)" text-anchor="middle" class="tk">2</text>
<text transform="translate(273.51,622.3) scale(1,1.12)" text-anchor="middle" class="tk">3</text>
<text transform="translate(322.68,622.3) scale(1,1.12)" text-anchor="middle" class="tk">4</text>
<text transform="translate(371.85,622.3) scale(1,1.12)" text-anchor="middle" class="tk">5</text>
<text transform="translate(421.02,622.3) scale(1,1.12)" text-anchor="middle" class="tk">6</text>
<text transform="translate(470.19,622.3) scale(1,1.12)" text-anchor="middle" class="tk">7</text>
<text transform="translate(519.36,622.3) scale(1,1.12)" text-anchor="middle" class="tk">8</text>
<text transform="translate(568.53,622.3) scale(1,1.12)" text-anchor="middle" class="tk">9</text>
<text transform="translate(617.70,622.3) scale(1,1.12)" text-anchor="middle" class="tk">10</text>
<text transform="translate(102,585.90) scale(1,1.10)" text-anchor="end" class="tk">0</text>
<text transform="translate(102,532.90) scale(1,1.10)" text-anchor="end" class="tk">10</text>
<text transform="translate(102,479.90) scale(1,1.10)" text-anchor="end" class="tk">20</text>
<text transform="translate(102,426.90) scale(1,1.10)" text-anchor="end" class="tk">30</text>
<text transform="translate(102,373.90) scale(1,1.10)" text-anchor="end" class="tk">40</text>
<text transform="translate(102,320.90) scale(1,1.10)" text-anchor="end" class="tk">50</text>
<text transform="translate(102,267.90) scale(1,1.10)" text-anchor="end" class="tk">60</text>
<text transform="translate(102,214.90) scale(1,1.10)" text-anchor="end" class="tk">70</text>
<text transform="translate(102,161.90) scale(1,1.10)" text-anchor="end" class="tk">80</text>
<text x="231.5" y="654.7" class="ax" textLength="281.5" lengthAdjust="spacingAndGlyphs">Simulation time (ns)</text>
<text transform="translate(42.9,464.5) rotate(-90)" style="font-size:33.5px;stroke-width:0.5px" textLength="247.5" lengthAdjust="spacingAndGlyphs">Residue number</text>
</svg>
</body></html>
